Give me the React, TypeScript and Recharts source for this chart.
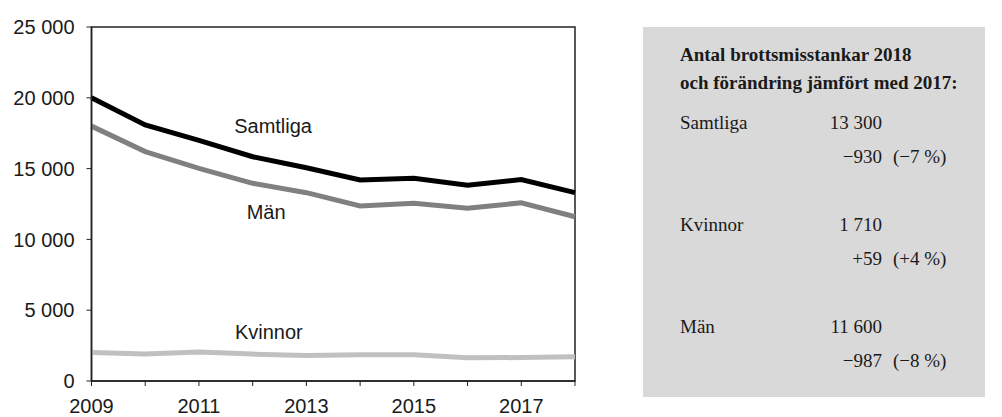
import { LineChart, Line, XAxis, YAxis, ReferenceArea, ReferenceDot } from "recharts"

// antal brottsmisstankar per år
const years = [2009, 2010, 2011, 2012, 2013, 2014, 2015, 2016, 2017, 2018]
const samtliga = [20000, 18080, 17000, 15840, 15060, 14200, 14310, 13820, 14230, 13300]
const man = [18000, 16200, 15020, 13960, 13300, 12360, 12550, 12200, 12587, 11600]
const kvinnor = [2020, 1900, 2050, 1900, 1800, 1850, 1850, 1650, 1651, 1710]

const yTicks = [0, 5000, 10000, 15000, 20000, 25000]
const xLabelYears = [2009, 2011, 2013, 2015, 2017]

// text i rutan till höger
const boxTitle = ["Antal brottsmisstankar 2018", "och förändring jämfört med 2017:"]
const boxRows = [
  { name: "Samtliga", value: "13 300", change: "−930", pct: "(−7 %)" },
  { name: "Kvinnor", value: "1 710", change: "+59", pct: "(+4 %)" },
  { name: "Män", value: "11 600", change: "−987", pct: "(−8 %)" },
]

const seriesLabels = [
  { text: "Samtliga", x: 2012.38, y: 18000 },
  { text: "Män", x: 2012.25, y: 11940 },
  { text: "Kvinnor", x: 2012.3, y: 3460 },
]

const data = years.map((year, i) => ({
  year,
  samtliga: samtliga[i],
  man: man[i],
  kvinnor: kvinnor[i],
}))

const fmt = (v: number) => v.toLocaleString("sv-SE").replace(/\u00a0/g, " ")

const sans = "'Liberation Sans', Arial, sans-serif"
const serif = "'Liberation Serif', 'Times New Roman', serif"

export default function App() {
  return (
    <div style={{ position: "absolute", left: 0, top: 0, width: 1002, height: 417, background: "#fff" }}>
      <LineChart width={600} height={417} data={data} margin={{ top: 27, right: 25, left: 0, bottom: 0 }}>
        <XAxis
          dataKey="year"
          type="number"
          domain={[2009, 2018]}
          ticks={years}
          tickFormatter={(v: number) => (xLabelYears.includes(v) ? String(v) : "")}
          height={36}
          tickSize={5}
          tickMargin={13}
          axisLine={{ stroke: "#222", strokeWidth: 1.5 }}
          tickLine={{ stroke: "#222" }}
          tick={{ fill: "#1a1a1a", fontSize: 20, fontFamily: sans }}
          interval={0}
        />
        <YAxis
          domain={[0, 25000]}
          ticks={yTicks}
          tickFormatter={fmt}
          width={91.5}
          tickSize={5}
          tickMargin={12}
          axisLine={{ stroke: "#222", strokeWidth: 1.5 }}
          tickLine={{ stroke: "#222" }}
          tick={{ fill: "#1a1a1a", fontSize: 20, fontFamily: sans }}
          interval={0}
        />
        <ReferenceArea x1={2009} x2={2018} y1={0} y2={25000} fill="none" stroke="#222" strokeWidth={1.5} />
        <Line dataKey="kvinnor" stroke="#c0c0c0" strokeWidth={5} dot={false} isAnimationActive={false} />
        <Line dataKey="man" stroke="#808080" strokeWidth={5} dot={false} isAnimationActive={false} />
        <Line dataKey="samtliga" stroke="#000" strokeWidth={5} dot={false} isAnimationActive={false} />
        {seriesLabels.map((l) => (
          <ReferenceDot
            key={l.text}
            x={l.x}
            y={l.y}
            r={0}
            fill="none"
            stroke="none"
            label={{ value: l.text, position: "center", fill: "#1a1a1a", fontSize: 20, fontFamily: sans }}
          />
        ))}
      </LineChart>
      <div
        style={{
          position: "absolute",
          left: 643,
          top: 27,
          width: 342,
          height: 370,
          background: "#d9d9d9",
          fontFamily: serif,
          color: "#1a1a1a",
          fontSize: 19,
        }}
      >
        {boxTitle.map((t, i) => (
          <div key={t} style={{ position: "absolute", left: 37, top: 17 + i * 28, fontWeight: "bold", whiteSpace: "nowrap" }}>
            {t}
          </div>
        ))}
        {boxRows.map((r, i) => (
          <div key={r.name}>
            <div style={{ position: "absolute", left: 37, top: 85 + i * 102 }}>{r.name}</div>
            <div style={{ position: "absolute", right: 103, top: 85 + i * 102 }}>{r.value}</div>
            <div style={{ position: "absolute", right: 103, top: 119 + i * 102 }}>{r.change}</div>
            <div style={{ position: "absolute", left: 250, top: 119 + i * 102 }}>{r.pct}</div>
          </div>
        ))}
      </div>
    </div>
  )
}
